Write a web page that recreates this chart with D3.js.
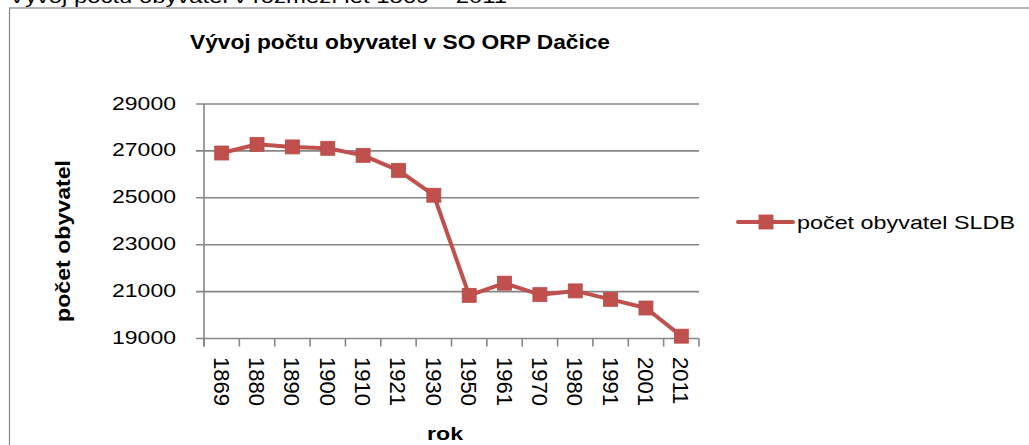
<!DOCTYPE html>
<html>
<head>
<meta charset="utf-8">
<script src="https://cdn.jsdelivr.net/npm/d3@7"></script>
<style>
  html, body { margin: 0; padding: 0; background: #fff; overflow: hidden; }
  svg { display: block; }
  text { font-family: "Liberation Sans", Arial, sans-serif; fill: #000; }
</style>
</head>
<body>
<svg id="chart" width="1029" height="445"></svg>
<script>
// ---- data ----
const categories = ["1869","1880","1890","1900","1910","1921","1930","1950","1961","1970","1980","1991","2001","2011"];
const population = [26910, 27280, 27170, 27110, 26810, 26170, 25110, 20840, 21360, 20870, 21030, 20670, 20300, 19100];
const yTicks = [19000, 21000, 23000, 25000, 27000, 29000];
const pageHeading = "Vývoj počtu obyvatel v rozmezí let 1869 – 2011";
const chartTitle = "Vývoj počtu obyvatel v SO ORP Dačice";
const yTitle = "počet obyvatel";
const xTitle = "rok";
const seriesName = "počet obyvatel SLDB";

// ---- layout ----
const svg = d3.select("#chart");
const gray = "#868686";
const red = "#C0504D";
const plot = { left: 204, right: 699, top: 104, bottom: 338.5 };

const x = d3.scaleBand().domain(categories).range([plot.left, plot.right]).padding(0);
const y = d3.scaleLinear().domain([19000, 29000]).range([plot.bottom, plot.top]);

// page heading (cut off at top)
svg.append("text")
  .attr("x", 9).attr("y", 3)
  .attr("font-size", 19)
  .attr("textLength", 498).attr("lengthAdjust", "spacingAndGlyphs")
  .text(pageHeading);

// chart frame
svg.append("rect")
  .attr("x", 9.5).attr("y", 8)
  .attr("width", 1100).attr("height", 600)
  .attr("fill", "none").attr("stroke", gray).attr("stroke-width", 1.2);

// title
svg.append("text")
  .attr("x", 190).attr("y", 49)
  .attr("font-size", 21).attr("font-weight", "bold")
  .attr("textLength", 420).attr("lengthAdjust", "spacingAndGlyphs")
  .text(chartTitle);

// gridlines + y ticks
svg.append("g").selectAll("line").data(yTicks).join("line")
  .attr("x1", plot.left - 8).attr("x2", plot.right)
  .attr("y1", d => y(d)).attr("y2", d => y(d))
  .attr("stroke", gray).attr("stroke-width", 1.6);

// y axis line
svg.append("line")
  .attr("x1", plot.left).attr("x2", plot.left)
  .attr("y1", plot.top).attr("y2", plot.bottom + 8)
  .attr("stroke", gray).attr("stroke-width", 1.6);

// x tick marks at category boundaries
const bounds = categories.map(c => x(c)).concat([x.range()[1]]);
svg.append("g").selectAll("line").data(bounds).join("line")
  .attr("x1", d => d).attr("x2", d => d)
  .attr("y1", plot.bottom).attr("y2", plot.bottom + 8)
  .attr("stroke", gray).attr("stroke-width", 1.6);

// y tick labels
svg.append("g").selectAll("text").data(yTicks).join("text")
  .attr("x", 176).attr("y", d => y(d) + 5.5)
  .attr("text-anchor", "end")
  .attr("font-size", 18.6)
  .attr("textLength", 64).attr("lengthAdjust", "spacingAndGlyphs")
  .text(d => d);

// x tick labels (rotated)
svg.append("g").selectAll("text").data(categories).join("text")
  .attr("transform", d => `translate(${x(d) + x.bandwidth() / 2 - 8},357) rotate(90)`)
  .attr("font-size", 22)
  .text(d => d);

// axis titles
svg.append("text")
  .attr("transform", "translate(70,241) rotate(-90)")
  .attr("text-anchor", "middle")
  .attr("font-size", 20).attr("font-weight", "bold")
  .attr("textLength", 162).attr("lengthAdjust", "spacingAndGlyphs")
  .text(yTitle);

svg.append("text")
  .attr("x", 427).attr("y", 440)
  .attr("font-size", 19).attr("font-weight", "bold")
  .attr("textLength", 36).attr("lengthAdjust", "spacingAndGlyphs")
  .text(xTitle);

// series line
const cx = (d, i) => x(categories[i]) + x.bandwidth() / 2;
const line = d3.line().x(cx).y(d => y(d));
svg.append("path")
  .datum(population)
  .attr("d", line)
  .attr("fill", "none").attr("stroke", red).attr("stroke-width", 4)
  .attr("stroke-linejoin", "round");

const ms = 14;
svg.append("g").selectAll("rect").data(population).join("rect")
  .attr("x", (d, i) => cx(d, i) - ms / 2)
  .attr("y", d => y(d) - ms / 2)
  .attr("width", ms).attr("height", ms)
  .attr("fill", red).attr("stroke", "#B94C49").attr("stroke-width", 0.8);

// legend
const lg = svg.append("g");
lg.append("line")
  .attr("x1", 738).attr("x2", 793).attr("y1", 222).attr("y2", 222)
  .attr("stroke", red).attr("stroke-width", 4).attr("stroke-linecap", "round");
lg.append("rect")
  .attr("x", 766 - ms / 2).attr("y", 222 - ms / 2)
  .attr("width", ms).attr("height", ms)
  .attr("fill", red).attr("stroke", "#B94C49").attr("stroke-width", 0.8);
lg.append("text")
  .attr("x", 797).attr("y", 228.5)
  .attr("font-size", 18.6)
  .attr("textLength", 218).attr("lengthAdjust", "spacingAndGlyphs")
  .text(seriesName);
</script>
</body>
</html>
